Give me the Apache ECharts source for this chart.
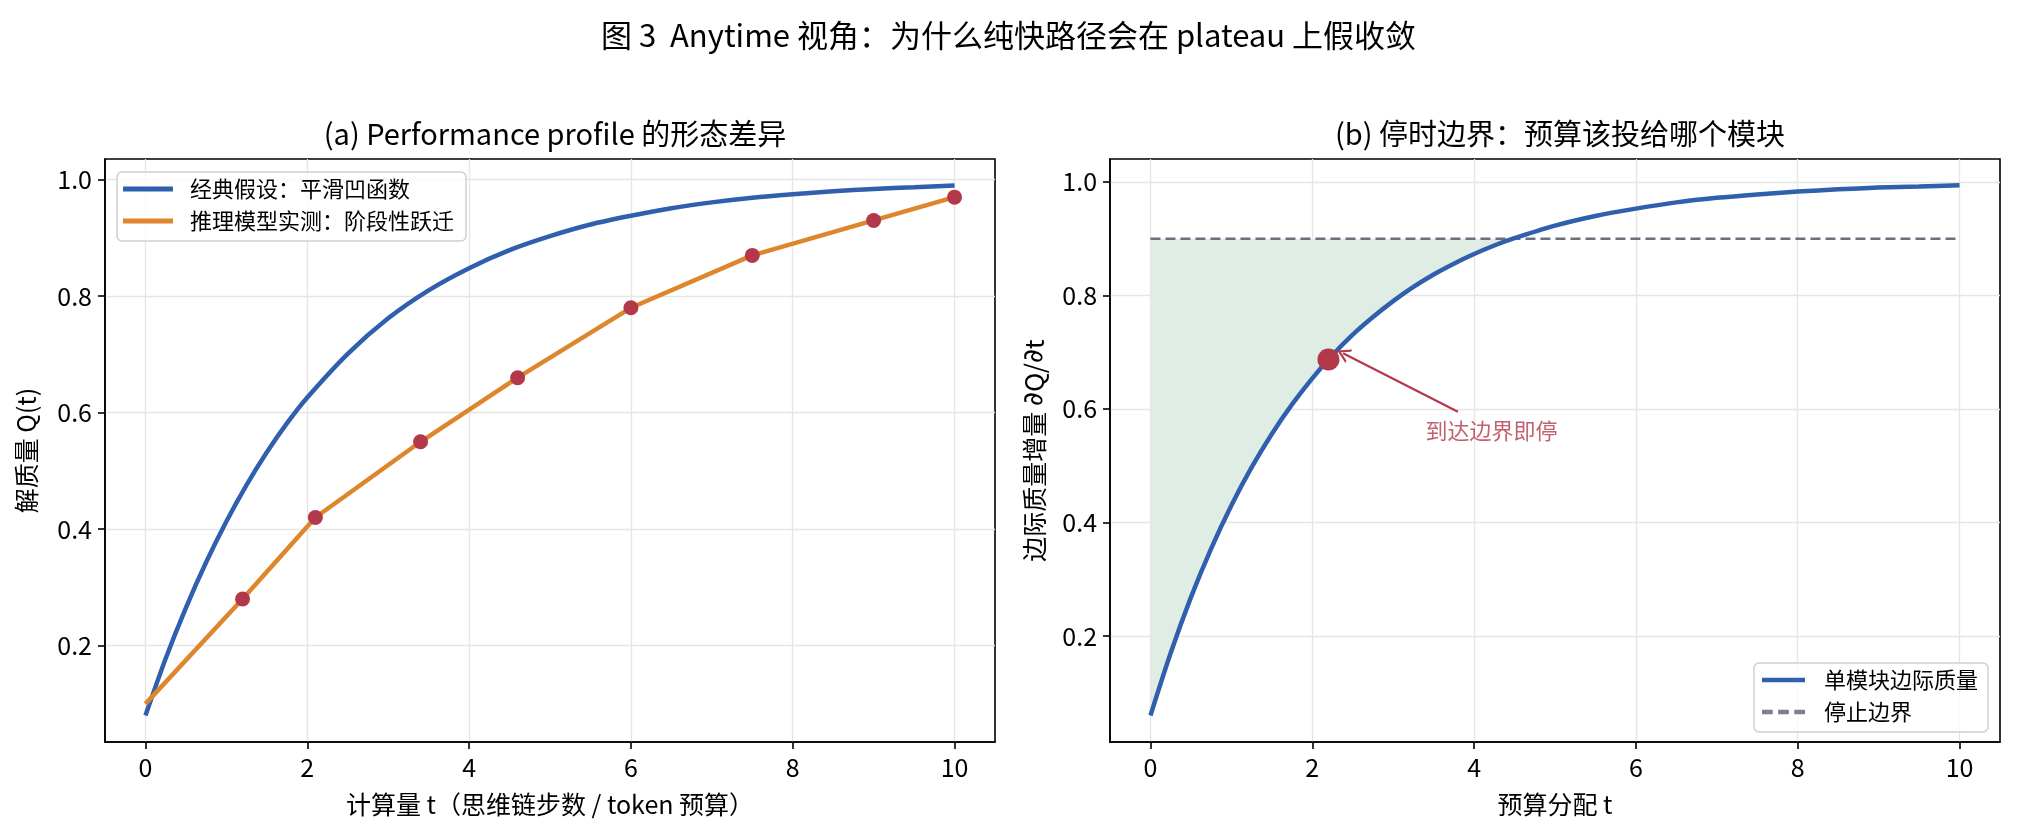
<!DOCTYPE html>
<html>
<head>
<meta charset="utf-8">
<script src="https://cdn.jsdelivr.net/npm/echarts@6/dist/echarts.min.js"></script>
<style>
html,body{margin:0;padding:0;background:#fff;}
#chart{width:2017px;height:837px;}
</style>
</head>
<body>
<div id="chart"></div>
<script>
// ---- data ----
const xTicks = [0, 2, 4, 6, 8, 10];
const yTicks = [0.2, 0.4, 0.6, 0.8, 1.0];

// (a) classic smooth concave profile
const tSmooth = [0, 0.25, 0.5, 0.75, 1, 1.25, 1.5, 1.75, 2, 2.5, 3, 3.5, 4, 4.5, 5, 5.5, 6, 6.5, 7, 7.5, 8, 8.5, 9, 9.5, 10];
const qSmooth = [0.080, 0.178, 0.265, 0.343, 0.413, 0.476, 0.532, 0.582, 0.626, 0.701, 0.762, 0.810, 0.848, 0.879, 0.903, 0.923, 0.938, 0.951, 0.961, 0.969, 0.975, 0.980, 0.984, 0.987, 0.990];

// (a) measured reasoning-model profile (stage-wise)
const tStage = [0, 1.2, 2.1, 3.4, 4.6, 6.0, 7.5, 9.0, 10];
const qStage = [0.10, 0.28, 0.42, 0.55, 0.66, 0.78, 0.87, 0.93, 0.97];

// (b) marginal quality of a single module
const tMarg = [0, 0.25, 0.5, 0.75, 1, 1.25, 1.5, 1.75, 2, 2.25, 2.5, 2.75, 3, 3.25, 3.5, 3.75, 4, 4.25, 4.48, 5, 5.5, 6, 6.5, 7, 7.5, 8, 8.5, 9, 9.5, 10];
const qMarg = [0.060, 0.170, 0.268, 0.354, 0.430, 0.497, 0.556, 0.608, 0.654, 0.695, 0.731, 0.762, 0.790, 0.815, 0.837, 0.856, 0.873, 0.888, 0.900, 0.923, 0.940, 0.953, 0.964, 0.972, 0.978, 0.983, 0.987, 0.990, 0.992, 0.994];
const stopLevel = 0.9;
const stopT = [0, 10];
const crossT = 4.48;
const stopPoint = [2.2, 0.687];
const annText = '到达边界即停';
const annTextAt = [3.4, 0.55];
const annArrowFrom = [3.8, 0.595];
const annArrowTo = [2.38, 0.698];

// ---- build ----
const FONT = '"Noto Sans CJK SC", "Noto Sans", sans-serif';
const BLUE = '#2f5fad';
const ORANGE = '#dd862c';
const RED = '#b3394a';
const GRAY = '#6b6f7e';
const FILL = '#dfede5';

const pair = (xs, ys) => xs.map((x, i) => [x, ys[i]]);
const fillPts = pair(tMarg, qMarg).filter(p => p[0] <= crossT);

const LINE_ICON = 'path://M0,0H50V5H0Z';
const DASH_ICON = 'path://M0,0H10V4H0Z M15,0H25V4H15Z M30,0H40V4H30Z';
const OPEN_ARROW = 'path://M0,10 L5,0 L10,10 L8.4,10 L5,3.2 L1.6,10 Z';

function xAxis(idx, name) {
  return {
    type: 'value', gridIndex: idx, min: -0.5, max: 10.5,
    name: name, nameLocation: 'middle', nameGap: 50,
    nameTextStyle: {fontFamily: FONT, fontSize: 25, color: '#000'},
    axisLine: {show: true, onZero: false, lineStyle: {color: '#000', width: 1.6}},
    axisTick: {show: true, length: 7, lineStyle: {color: '#000', width: 1.6}, customValues: xTicks},
    axisLabel: {fontFamily: FONT, fontSize: 25, color: '#000', margin: 13, customValues: xTicks},
    splitLine: {show: true, lineStyle: {color: '#e5e5e5', width: 1.3}}
  };
}
function yAxis(idx, name, mn, mx, gap) {
  return {
    type: 'value', gridIndex: idx, min: mn, max: mx,
    name: name, nameLocation: 'middle', nameGap: gap, nameRotate: 90,
    nameTextStyle: {fontFamily: FONT, fontSize: 25, color: '#000',
      rich: {m: {fontFamily: '"DejaVu Sans", sans-serif', fontSize: 27, color: '#000'},
             n: {fontFamily: FONT, fontSize: 26, color: '#000'}}},
    axisLine: {show: true, onZero: false, lineStyle: {color: '#000', width: 1.6}},
    axisTick: {show: true, length: 7, lineStyle: {color: '#000', width: 1.6}, customValues: yTicks},
    axisLabel: {fontFamily: FONT, fontSize: 25, color: '#000', margin: 13, customValues: yTicks,
      formatter: v => v.toFixed(1)},
    splitLine: {show: true, lineStyle: {color: '#e5e5e5', width: 1.3}}
  };
}

const option = {
  backgroundColor: '#fff',
  animation: false,
  title: [
    {text: '图 3  Anytime 视角：为什么纯快路径会在 plateau 上假收敛', left: 'center', top: 15,
      textStyle: {fontFamily: FONT, fontSize: 31, fontWeight: 'normal', color: '#000'}},
    {text: '(a) Performance profile 的形态差异', left: 550, top: 114, textAlign: 'center',
      textStyle: {fontFamily: FONT, fontSize: 29, fontWeight: 'normal', color: '#000'}},
    {text: '(b) 停时边界：预算该投给哪个模块', left: 1555, top: 114, textAlign: 'center',
      textStyle: {fontFamily: FONT, fontSize: 29, fontWeight: 'normal', color: '#000'}}
  ],
  grid: [
    {left: 105, top: 159, width: 890, height: 583, show: true, borderColor: '#000', borderWidth: 1.6, backgroundColor: 'transparent'},
    {left: 1110, top: 159, width: 890, height: 583, show: true, borderColor: '#000', borderWidth: 1.6, backgroundColor: 'transparent'}
  ],
  xAxis: [xAxis(0, '计算量 t（思维链步数 / token 预算）'), xAxis(1, '预算分配 t')],
  yAxis: [yAxis(0, '解质量 Q(t)', 0.0345, 1.0355, 66),
          yAxis(1, '边际质量增量 {m|∂}{n|Q/}{m|∂}{n|t}', 0.0133, 1.0404, 62)],
  legend: [
    {
      left: 117, top: 172, orient: 'vertical', itemWidth: 50, itemHeight: 5, itemGap: 10,
      padding: [6, 12, 9, 6], borderColor: '#d0d0d0', borderWidth: 1.5, borderRadius: 5,
      backgroundColor: 'rgba(255,255,255,0.8)',
      textStyle: {fontFamily: FONT, fontSize: 22, color: '#000', lineHeight: 22, padding: [0, 0, 0, 12]},
      data: [{name: '经典假设：平滑凹函数', icon: LINE_ICON}, {name: '推理模型实测：阶段性跃迁', icon: LINE_ICON}]
    },
    {
      right: 29, bottom: 105, orient: 'vertical', itemWidth: 43, itemHeight: 4.5, itemGap: 10,
      padding: [6, 10, 9, 8], borderColor: '#d0d0d0', borderWidth: 1.5, borderRadius: 5,
      backgroundColor: 'rgba(255,255,255,0.8)',
      textStyle: {fontFamily: FONT, fontSize: 22, color: '#000', lineHeight: 22, padding: [0, 0, 0, 14]},
      data: [{name: '单模块边际质量', icon: LINE_ICON}, {name: '停止边界', icon: DASH_ICON, itemStyle: {color: '#7c808e'}}]
    }
  ],
  series: [
    {name: '经典假设：平滑凹函数', type: 'line', xAxisIndex: 0, yAxisIndex: 0, data: pair(tSmooth, qSmooth),
      smooth: 0.3, symbol: 'none', lineStyle: {color: BLUE, width: 4.5}, itemStyle: {color: BLUE}, z: 3},
    {name: '推理模型实测：阶段性跃迁', type: 'line', xAxisIndex: 0, yAxisIndex: 0, data: pair(tStage, qStage),
      symbol: 'none', lineStyle: {color: ORANGE, width: 4.5}, itemStyle: {color: ORANGE}, z: 3},
    {name: 'stage-points', type: 'scatter', xAxisIndex: 0, yAxisIndex: 0, data: pair(tStage, qStage).slice(1),
      symbol: 'circle', symbolSize: 15, itemStyle: {color: RED, opacity: 1}, z: 4},

    // (b) shaded region between the curve and the stop level
    {name: 'fill', type: 'custom', xAxisIndex: 1, yAxisIndex: 1, data: [[0, stopLevel]], silent: true, z: 1,
      renderItem: function (params, api) {
        const pts = fillPts.map(p => api.coord(p));
        pts.push(api.coord([crossT, stopLevel]));
        pts.push(api.coord([0, stopLevel]));
        return {type: 'polygon', shape: {points: pts}, style: {fill: FILL}};
      }},
    {name: '停止边界', type: 'line', xAxisIndex: 1, yAxisIndex: 1, data: stopT.map(t => [t, stopLevel]),
      symbol: 'none', lineStyle: {color: GRAY, width: 2.4, type: [10, 5]}, itemStyle: {color: GRAY}, z: 2},
    {name: '单模块边际质量', type: 'line', xAxisIndex: 1, yAxisIndex: 1, data: pair(tMarg, qMarg),
      smooth: 0.3, symbol: 'none', lineStyle: {color: BLUE, width: 4.5}, itemStyle: {color: BLUE}, z: 3},
    {name: 'stop-point', type: 'scatter', xAxisIndex: 1, yAxisIndex: 1, data: [stopPoint],
      symbol: 'circle', symbolSize: 22, itemStyle: {color: RED, opacity: 1}, z: 5},
    {name: 'ann-text', type: 'scatter', xAxisIndex: 1, yAxisIndex: 1, data: [annTextAt],
      symbolSize: 0, z: 6, silent: true,
      label: {show: true, formatter: annText, position: [0, 0], align: 'left', verticalAlign: 'bottom',
        offset: [0, 4], fontFamily: FONT, fontSize: 22, color: RED},
      markLine: {silent: true, symbol: ['none', OPEN_ARROW], symbolSize: [15, 13],
        lineStyle: {color: RED, width: 2.2, type: 'solid'}, label: {show: false},
        data: [[{coord: annArrowFrom}, {coord: annArrowTo}]]}}
  ]
};

const chart = echarts.init(document.getElementById('chart'), null, {renderer: 'canvas'});
chart.setOption(option);
</script>
</body>
</html>
